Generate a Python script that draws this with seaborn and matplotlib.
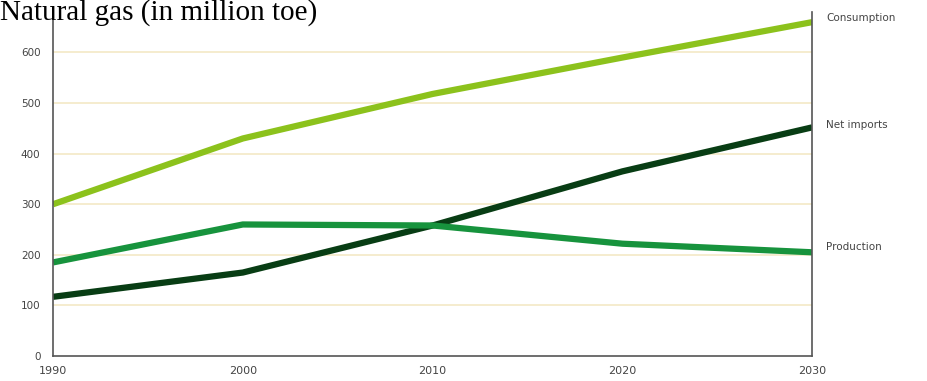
import pandas as pd
import matplotlib.pyplot as plt
import seaborn as sns

# Данные (млн т н.э.)
years = [1990, 2000, 2010, 2020, 2030]
consumption = [300, 430, 518, 590, 660]
production = [185, 260, 258, 222, 205]
net_imports = [117, 165, 258, 365, 452]

series_names = ['Consumption', 'Net imports', 'Production']
colors = ['#8cc21c', '#083d14', '#17933d']
label_y = [668, 456, 215]

df = pd.DataFrame({
    'year': years * 3,
    'value': consumption + net_imports + production,
    'series': ['Consumption'] * 5 + ['Net imports'] * 5 + ['Production'] * 5,
})

sns.set_style('white')
fig = plt.figure(figsize=(9.27, 3.81), dpi=100)
ax = fig.add_axes([0.0572, 0.0656, 0.8190, 0.9029])

sns.lineplot(data=df, x='year', y='value', hue='series', hue_order=series_names,
             palette=colors, linewidth=4.5, legend=False, ax=ax,
             solid_capstyle='butt')

ax.set_xlim(1990, 2030)
ax.set_ylim(0, 680)
ax.set_xticks([1990, 2000, 2010, 2020, 2030])
ax.set_yticks([0, 100, 200, 300, 400, 500, 600])
ax.set_xlabel('')
ax.set_ylabel('')

# сетка
for v in [100, 200, 300, 400, 500, 600]:
    ax.axhline(v, color='#f3e9c6', linewidth=1.2, zorder=0)

ax.spines['top'].set_visible(False)
for side in ['left', 'bottom', 'right']:
    ax.spines[side].set_color('#555555')
    ax.spines[side].set_linewidth(1.2)

ax.tick_params(axis='y', direction='out', length=3, color='#555555',
               labelsize=7.5, labelcolor='#444444', pad=6)
ax.tick_params(axis='x', direction='inout', length=5, color='#555555',
               labelsize=8, labelcolor='#444444', pad=5)

# подписи серий справа
for name, y in zip(series_names, label_y):
    ax.annotate(name, xy=(2030, y), xytext=(10, 0), textcoords='offset points',
                fontsize=7.5, color='#444444', va='center', ha='left',
                annotation_clip=False)

fig.text(0.0, 0.948, 'Natural gas (in million toe)', family='Liberation Serif',
         fontsize=21, color='black', va='baseline', ha='left')

fig.savefig('out.png', dpi=100)
